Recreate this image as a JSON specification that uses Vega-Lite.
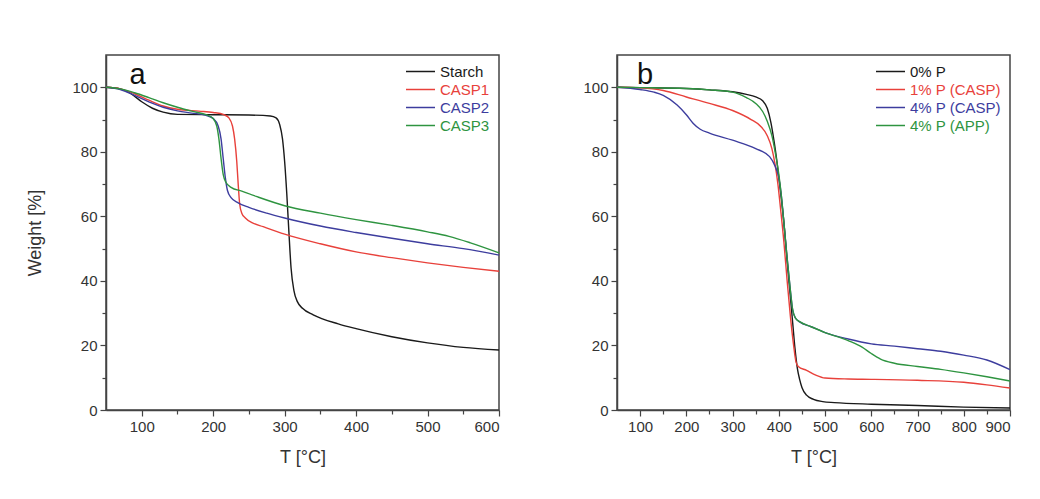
{
  "$schema": "https://vega.github.io/schema/vega-lite/v6.json",
  "background": "white",
  "padding": {"left": 26, "top": 54, "right": 5, "bottom": 5},
  "config": {
    "font": "Liberation Sans",
    "view": {"stroke": "#444", "strokeWidth": 1.5},
    "axis": {
      "grid": false,
      "domainColor": "#444",
      "domainWidth": 1.5,
      "tickColor": "#444",
      "tickSize": 6,
      "tickWidth": 1.2,
      "labelFont": "Liberation Sans",
      "labelFontSize": 15,
      "labelColor": "#333",
      "labelPadding": 3,
      "titleFont": "Liberation Sans",
      "titleFontSize": 18,
      "titleFontWeight": "normal",
      "titleColor": "#333"
    },
    "legend": {
      "labelFont": "Liberation Sans",
      "labelFontSize": 15,
      "symbolType": "M-2.9,0H2.9",
      "symbolSize": 100,
      "symbolStrokeWidth": 1.5,
      "rowPadding": 2,
      "labelOffset": 12,
      "padding": 0
    }
  },
  "datasets": {
    "a": [
      {"T": 50, "W": 100, "s": "Starch"}, {"T": 70, "W": 99.5, "s": "Starch"}, {"T": 85, "W": 98, "s": "Starch"}, {"T": 100, "W": 95.5, "s": "Starch"}, {"T": 115, "W": 93.5, "s": "Starch"}, {"T": 130, "W": 92.3, "s": "Starch"}, {"T": 150, "W": 91.6, "s": "Starch"}, {"T": 200, "W": 91.5, "s": "Starch"}, {"T": 250, "W": 91.4, "s": "Starch"}, {"T": 280, "W": 91.1, "s": "Starch"}, {"T": 288, "W": 90.5, "s": "Starch"}, {"T": 293, "W": 88.5, "s": "Starch"}, {"T": 297, "W": 84, "s": "Starch"}, {"T": 300, "W": 77, "s": "Starch"}, {"T": 303, "W": 67, "s": "Starch"}, {"T": 306, "W": 55, "s": "Starch"}, {"T": 309, "W": 44, "s": "Starch"}, {"T": 313, "W": 37, "s": "Starch"}, {"T": 318, "W": 33.5, "s": "Starch"}, {"T": 325, "W": 31.5, "s": "Starch"}, {"T": 340, "W": 29.5, "s": "Starch"}, {"T": 375, "W": 26.7, "s": "Starch"}, {"T": 400, "W": 25.2, "s": "Starch"}, {"T": 450, "W": 22.7, "s": "Starch"}, {"T": 500, "W": 20.8, "s": "Starch"}, {"T": 550, "W": 19.4, "s": "Starch"}, {"T": 600, "W": 18.6, "s": "Starch"},
      {"T": 50, "W": 100, "s": "CASP1"}, {"T": 70, "W": 99.5, "s": "CASP1"}, {"T": 90, "W": 98, "s": "CASP1"}, {"T": 110, "W": 96, "s": "CASP1"}, {"T": 130, "W": 94.2, "s": "CASP1"}, {"T": 150, "W": 93.2, "s": "CASP1"}, {"T": 180, "W": 92.6, "s": "CASP1"}, {"T": 200, "W": 92.2, "s": "CASP1"}, {"T": 215, "W": 91.5, "s": "CASP1"}, {"T": 222, "W": 90.5, "s": "CASP1"}, {"T": 227, "W": 88, "s": "CASP1"}, {"T": 230, "W": 84, "s": "CASP1"}, {"T": 233, "W": 77, "s": "CASP1"}, {"T": 235, "W": 70, "s": "CASP1"}, {"T": 237, "W": 64, "s": "CASP1"}, {"T": 240, "W": 61, "s": "CASP1"}, {"T": 245, "W": 59.5, "s": "CASP1"}, {"T": 255, "W": 58, "s": "CASP1"}, {"T": 270, "W": 56.8, "s": "CASP1"}, {"T": 300, "W": 54.5, "s": "CASP1"}, {"T": 350, "W": 51.5, "s": "CASP1"}, {"T": 400, "W": 49, "s": "CASP1"}, {"T": 450, "W": 47.2, "s": "CASP1"}, {"T": 500, "W": 45.6, "s": "CASP1"}, {"T": 550, "W": 44.2, "s": "CASP1"}, {"T": 600, "W": 43, "s": "CASP1"},
      {"T": 50, "W": 100, "s": "CASP2"}, {"T": 70, "W": 99.3, "s": "CASP2"}, {"T": 90, "W": 97.5, "s": "CASP2"}, {"T": 110, "W": 95.5, "s": "CASP2"}, {"T": 130, "W": 93.8, "s": "CASP2"}, {"T": 150, "W": 92.7, "s": "CASP2"}, {"T": 170, "W": 92, "s": "CASP2"}, {"T": 190, "W": 91.3, "s": "CASP2"}, {"T": 200, "W": 90.3, "s": "CASP2"}, {"T": 207, "W": 88, "s": "CASP2"}, {"T": 211, "W": 84, "s": "CASP2"}, {"T": 214, "W": 78, "s": "CASP2"}, {"T": 217, "W": 72, "s": "CASP2"}, {"T": 220, "W": 68, "s": "CASP2"}, {"T": 225, "W": 65.8, "s": "CASP2"}, {"T": 235, "W": 64.2, "s": "CASP2"}, {"T": 250, "W": 62.8, "s": "CASP2"}, {"T": 275, "W": 61, "s": "CASP2"}, {"T": 300, "W": 59.5, "s": "CASP2"}, {"T": 350, "W": 57, "s": "CASP2"}, {"T": 400, "W": 55, "s": "CASP2"}, {"T": 450, "W": 53.2, "s": "CASP2"}, {"T": 500, "W": 51.5, "s": "CASP2"}, {"T": 550, "W": 50, "s": "CASP2"}, {"T": 600, "W": 48, "s": "CASP2"},
      {"T": 50, "W": 100, "s": "CASP3"}, {"T": 70, "W": 99.5, "s": "CASP3"}, {"T": 90, "W": 98.3, "s": "CASP3"}, {"T": 110, "W": 96.8, "s": "CASP3"}, {"T": 130, "W": 95.2, "s": "CASP3"}, {"T": 150, "W": 93.8, "s": "CASP3"}, {"T": 170, "W": 92.6, "s": "CASP3"}, {"T": 190, "W": 91.5, "s": "CASP3"}, {"T": 200, "W": 90.3, "s": "CASP3"}, {"T": 205, "W": 88, "s": "CASP3"}, {"T": 208, "W": 84, "s": "CASP3"}, {"T": 211, "W": 78, "s": "CASP3"}, {"T": 214, "W": 73, "s": "CASP3"}, {"T": 218, "W": 70.5, "s": "CASP3"}, {"T": 225, "W": 69, "s": "CASP3"}, {"T": 240, "W": 67.8, "s": "CASP3"}, {"T": 260, "W": 66.2, "s": "CASP3"}, {"T": 300, "W": 63.3, "s": "CASP3"}, {"T": 350, "W": 61, "s": "CASP3"}, {"T": 400, "W": 59, "s": "CASP3"}, {"T": 450, "W": 57.2, "s": "CASP3"}, {"T": 500, "W": 55.2, "s": "CASP3"}, {"T": 530, "W": 53.8, "s": "CASP3"}, {"T": 560, "W": 51.8, "s": "CASP3"}, {"T": 600, "W": 48.7, "s": "CASP3"}
    ],
    "b": [
      {"T": 50, "W": 100, "s": "0% P"}, {"T": 100, "W": 99.9, "s": "0% P"}, {"T": 200, "W": 99.6, "s": "0% P"}, {"T": 250, "W": 99.2, "s": "0% P"}, {"T": 300, "W": 98.6, "s": "0% P"}, {"T": 330, "W": 97.8, "s": "0% P"}, {"T": 350, "W": 97, "s": "0% P"}, {"T": 365, "W": 95.8, "s": "0% P"}, {"T": 375, "W": 93.5, "s": "0% P"}, {"T": 383, "W": 89, "s": "0% P"}, {"T": 390, "W": 83, "s": "0% P"}, {"T": 395, "W": 78, "s": "0% P"}, {"T": 400, "W": 72, "s": "0% P"}, {"T": 405, "W": 66, "s": "0% P"}, {"T": 411, "W": 58, "s": "0% P"}, {"T": 418, "W": 46, "s": "0% P"}, {"T": 425, "W": 35, "s": "0% P"}, {"T": 430, "W": 27, "s": "0% P"}, {"T": 435, "W": 19, "s": "0% P"}, {"T": 440, "W": 13, "s": "0% P"}, {"T": 445, "W": 9.5, "s": "0% P"}, {"T": 450, "W": 7, "s": "0% P"}, {"T": 460, "W": 4.6, "s": "0% P"}, {"T": 475, "W": 3.3, "s": "0% P"}, {"T": 495, "W": 2.6, "s": "0% P"}, {"T": 520, "W": 2.3, "s": "0% P"}, {"T": 600, "W": 1.8, "s": "0% P"}, {"T": 700, "W": 1.4, "s": "0% P"}, {"T": 800, "W": 0.9, "s": "0% P"}, {"T": 900, "W": 0.6, "s": "0% P"},
      {"T": 50, "W": 100, "s": "1% P (CASP)"}, {"T": 100, "W": 99.8, "s": "1% P (CASP)"}, {"T": 150, "W": 99, "s": "1% P (CASP)"}, {"T": 200, "W": 97, "s": "1% P (CASP)"}, {"T": 250, "W": 95, "s": "1% P (CASP)"}, {"T": 300, "W": 92.8, "s": "1% P (CASP)"}, {"T": 340, "W": 90, "s": "1% P (CASP)"}, {"T": 360, "W": 88, "s": "1% P (CASP)"}, {"T": 375, "W": 85, "s": "1% P (CASP)"}, {"T": 385, "W": 81, "s": "1% P (CASP)"}, {"T": 392, "W": 76, "s": "1% P (CASP)"}, {"T": 398, "W": 70, "s": "1% P (CASP)"}, {"T": 404, "W": 62, "s": "1% P (CASP)"}, {"T": 411, "W": 52, "s": "1% P (CASP)"}, {"T": 418, "W": 40, "s": "1% P (CASP)"}, {"T": 425, "W": 29, "s": "1% P (CASP)"}, {"T": 432, "W": 20, "s": "1% P (CASP)"}, {"T": 437, "W": 15, "s": "1% P (CASP)"}, {"T": 442, "W": 13.5, "s": "1% P (CASP)"}, {"T": 460, "W": 12.3, "s": "1% P (CASP)"}, {"T": 480, "W": 10.8, "s": "1% P (CASP)"}, {"T": 500, "W": 9.9, "s": "1% P (CASP)"}, {"T": 550, "W": 9.6, "s": "1% P (CASP)"}, {"T": 600, "W": 9.5, "s": "1% P (CASP)"}, {"T": 700, "W": 9.2, "s": "1% P (CASP)"}, {"T": 800, "W": 8.6, "s": "1% P (CASP)"}, {"T": 850, "W": 7.8, "s": "1% P (CASP)"}, {"T": 900, "W": 6.8, "s": "1% P (CASP)"},
      {"T": 50, "W": 100, "s": "4% P (CASP)"}, {"T": 100, "W": 99.3, "s": "4% P (CASP)"}, {"T": 130, "W": 98.5, "s": "4% P (CASP)"}, {"T": 150, "W": 97.5, "s": "4% P (CASP)"}, {"T": 180, "W": 94.5, "s": "4% P (CASP)"}, {"T": 200, "W": 91.5, "s": "4% P (CASP)"}, {"T": 215, "W": 88.8, "s": "4% P (CASP)"}, {"T": 230, "W": 87, "s": "4% P (CASP)"}, {"T": 250, "W": 85.8, "s": "4% P (CASP)"}, {"T": 300, "W": 83.6, "s": "4% P (CASP)"}, {"T": 350, "W": 81, "s": "4% P (CASP)"}, {"T": 380, "W": 78.5, "s": "4% P (CASP)"}, {"T": 392, "W": 75.5, "s": "4% P (CASP)"}, {"T": 400, "W": 72, "s": "4% P (CASP)"}, {"T": 405, "W": 67, "s": "4% P (CASP)"}, {"T": 411, "W": 58, "s": "4% P (CASP)"}, {"T": 418, "W": 47, "s": "4% P (CASP)"}, {"T": 425, "W": 37, "s": "4% P (CASP)"}, {"T": 430, "W": 31, "s": "4% P (CASP)"}, {"T": 436, "W": 28.5, "s": "4% P (CASP)"}, {"T": 445, "W": 27.3, "s": "4% P (CASP)"}, {"T": 470, "W": 25.8, "s": "4% P (CASP)"}, {"T": 500, "W": 24, "s": "4% P (CASP)"}, {"T": 550, "W": 22, "s": "4% P (CASP)"}, {"T": 600, "W": 20.5, "s": "4% P (CASP)"}, {"T": 650, "W": 19.8, "s": "4% P (CASP)"}, {"T": 700, "W": 19, "s": "4% P (CASP)"}, {"T": 750, "W": 18.2, "s": "4% P (CASP)"}, {"T": 800, "W": 17, "s": "4% P (CASP)"}, {"T": 850, "W": 15.5, "s": "4% P (CASP)"}, {"T": 900, "W": 12.5, "s": "4% P (CASP)"},
      {"T": 50, "W": 100, "s": "4% P (APP)"}, {"T": 100, "W": 99.9, "s": "4% P (APP)"}, {"T": 200, "W": 99.6, "s": "4% P (APP)"}, {"T": 250, "W": 99.2, "s": "4% P (APP)"}, {"T": 300, "W": 98.5, "s": "4% P (APP)"}, {"T": 330, "W": 96.8, "s": "4% P (APP)"}, {"T": 350, "W": 95, "s": "4% P (APP)"}, {"T": 365, "W": 92.5, "s": "4% P (APP)"}, {"T": 375, "W": 89.5, "s": "4% P (APP)"}, {"T": 385, "W": 85, "s": "4% P (APP)"}, {"T": 392, "W": 80, "s": "4% P (APP)"}, {"T": 400, "W": 73, "s": "4% P (APP)"}, {"T": 405, "W": 67, "s": "4% P (APP)"}, {"T": 411, "W": 58, "s": "4% P (APP)"}, {"T": 418, "W": 47, "s": "4% P (APP)"}, {"T": 425, "W": 37, "s": "4% P (APP)"}, {"T": 430, "W": 31, "s": "4% P (APP)"}, {"T": 436, "W": 28.5, "s": "4% P (APP)"}, {"T": 445, "W": 27.4, "s": "4% P (APP)"}, {"T": 470, "W": 25.8, "s": "4% P (APP)"}, {"T": 500, "W": 24, "s": "4% P (APP)"}, {"T": 550, "W": 21.5, "s": "4% P (APP)"}, {"T": 580, "W": 19.5, "s": "4% P (APP)"}, {"T": 600, "W": 17.5, "s": "4% P (APP)"}, {"T": 620, "W": 15.8, "s": "4% P (APP)"}, {"T": 650, "W": 14.5, "s": "4% P (APP)"}, {"T": 700, "W": 13.5, "s": "4% P (APP)"}, {"T": 750, "W": 12.6, "s": "4% P (APP)"}, {"T": 800, "W": 11.5, "s": "4% P (APP)"}, {"T": 850, "W": 10.3, "s": "4% P (APP)"}, {"T": 900, "W": 9, "s": "4% P (APP)"}
    ]
  },
  "hconcat": [
    {
      "width": 393,
      "height": 355,
      "layer": [
        {
          "data": {"name": "a"},
          "mark": {"type": "line", "interpolate": "monotone", "strokeWidth": 1.4},
          "encoding": {
            "x": {"field": "T", "type": "quantitative", "scale": {"domain": [50, 600], "nice": false, "zero": false}, "axis": {"values": [100, 200, 300, 400, 500, 600], "title": "T [°C]", "titlePadding": 14}},
            "y": {"field": "W", "type": "quantitative", "scale": {"domain": [0, 110], "nice": false}, "axis": {"values": [0, 20, 40, 60, 80, 100], "title": "Weight [%]", "titlePadding": 27}},
            "color": {"field": "s", "type": "nominal", "scale": {"domain": ["Starch", "CASP1", "CASP2", "CASP3"], "range": ["#1a1a1a", "#e8413b", "#3d3d9e", "#2e9440"]},
              "legend": {"title": null, "orient": "top-right", "offset": 9,
                "labelColor": {"expr": "datum.label === 'CASP1' ? '#e8413b' : datum.label === 'CASP2' ? '#3d3d9e' : datum.label === 'CASP3' ? '#2e9440' : '#1a1a1a'"}}}
          }
        },
        {
          "data": {"values": [{}]},
          "mark": {"type": "text", "text": "a", "fontSize": 29, "font": "Liberation Sans", "align": "left", "baseline": "alphabetic", "color": "#111"},
          "encoding": {
            "x": {"datum": 83, "type": "quantitative", "axis": {"orient": "bottom", "values": [150, 250, 350, 450, 550], "labels": false, "domain": false, "tickSize": 4, "title": null}},
            "y": {"datum": 101, "type": "quantitative", "axis": {"orient": "left", "values": [10, 30, 50, 70, 90], "labels": false, "domain": false, "tickSize": 4, "title": null}}
          }
        }
      ],
      "resolve": {"axis": {"x": "independent", "y": "independent"}}
    },
    {
      "width": 393,
      "height": 355,
      "layer": [
        {
          "data": {"name": "b"},
          "mark": {"type": "line", "interpolate": "monotone", "strokeWidth": 1.4},
          "encoding": {
            "x": {"field": "T", "type": "quantitative", "scale": {"domain": [50, 900], "nice": false, "zero": false}, "axis": {"values": [100, 200, 300, 400, 500, 600, 700, 800, 900], "title": "T [°C]", "titlePadding": 14}},
            "y": {"field": "W", "type": "quantitative", "scale": {"domain": [0, 110], "nice": false}, "axis": {"values": [0, 20, 40, 60, 80, 100], "title": null}},
            "color": {"field": "s", "type": "nominal", "scale": {"domain": ["0% P", "1% P (CASP)", "4% P (CASP)", "4% P (APP)"], "range": ["#1a1a1a", "#e8413b", "#3d3d9e", "#2e9440"]},
              "legend": {"title": null, "orient": "top-right", "offset": 9,
                "labelColor": {"expr": "datum.label === '1% P (CASP)' ? '#e8413b' : datum.label === '4% P (CASP)' ? '#3d3d9e' : datum.label === '4% P (APP)' ? '#2e9440' : '#1a1a1a'"}}}
          }
        },
        {
          "data": {"values": [{}]},
          "mark": {"type": "text", "text": "b", "fontSize": 29, "font": "Liberation Sans", "align": "left", "baseline": "alphabetic", "color": "#111"},
          "encoding": {
            "x": {"datum": 93, "type": "quantitative", "axis": {"orient": "bottom", "values": [150, 250, 350, 450, 550, 650, 750, 850], "labels": false, "domain": false, "tickSize": 4, "title": null}},
            "y": {"datum": 101, "type": "quantitative", "axis": {"orient": "left", "values": [10, 30, 50, 70, 90], "labels": false, "domain": false, "tickSize": 4, "title": null}}
          }
        }
      ],
      "resolve": {"axis": {"x": "independent", "y": "independent"}}
    }
  ],
  "spacing": 118,
  "bounds": "flush",
  "resolve": {"scale": {"color": "independent"}, "legend": {"color": "independent"}}
}
